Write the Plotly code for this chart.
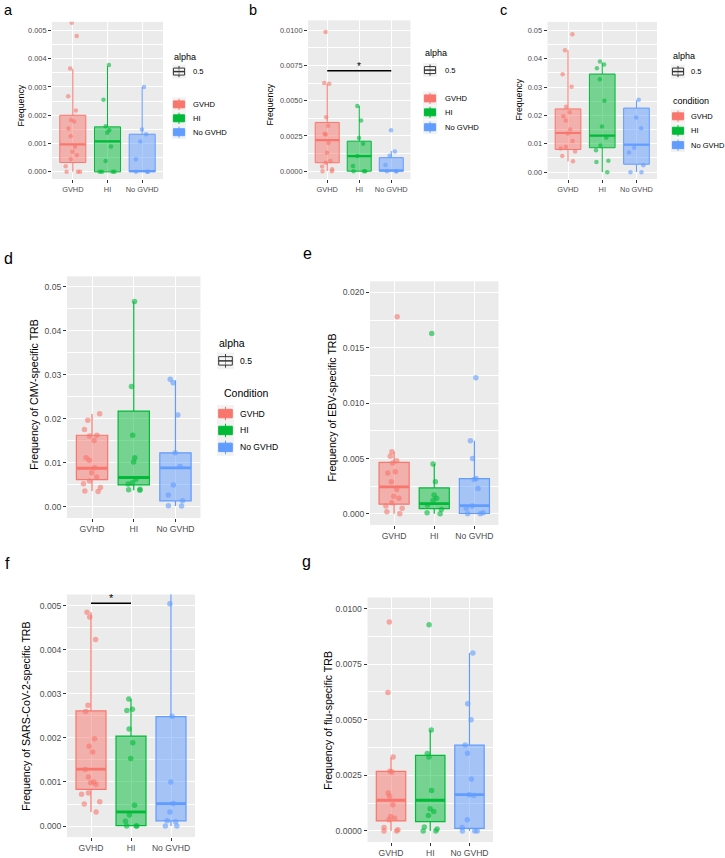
import plotly.graph_objects as go

W, H = 725, 858
GROUPS = ["GVHD", "HI", "No GVHD"]
COLORS = ["#F8766D", "#00BA38", "#619CFF"]
FILLS = ["rgba(248,118,109,0.5)", "rgba(0,186,56,0.5)", "rgba(97,156,255,0.5)"]
DOTS = ["rgba(248,118,109,0.6)", "rgba(0,186,56,0.6)", "rgba(97,156,255,0.6)"]

# ---------------- panel a ----------------
A_GVHD = [0.00527, 0.0048, 0.00365, 0.00267, 0.00217, 0.00183, 0.00178, 0.00153, 0.00126,
          0.00089, 0.00071, 0.00059, 0.00045, 0.0002, 0.0, 0.0, 0.0]
A_HI = [0.00378, 0.00255, 0.00161, 0.00147, 0.00138, 0.0009, 0.00038, 0.0, 0.0, 0.0, 0.0]
A_NO = [0.003, 0.0015, 0.00133, 0.00107, 0.00045, 0.0, 0.0, 0.0]
A_Q1 = [0.00033, 0.0, 0.0]
A_MED = [0.00097, 0.00108, 0.00003]
A_Q3 = [0.002, 0.00159, 0.00133]
A_LO = [0.0, 0.0, 0.0]
A_UP = [0.00363, 0.00374, 0.003]

# ---------------- panel b ----------------
B_GVHD = [0.00988, 0.00626, 0.00621, 0.00383, 0.00322, 0.00266, 0.0026, 0.002, 0.0013,
          0.00072, 0.0006, 0.00033, 0.00014, 0.0, 0.0]
B_HI = [0.00463, 0.0036, 0.00236, 0.00194, 0.00107, 0.00037, 0.0, 0.0, 0.0]
B_NO = [0.0029, 0.0014, 0.0011, 0.00044, 0.0, 0.0, 0.0]
B_Q1 = [0.0006, 0.0, 0.0]
B_MED = [0.0022, 0.00107, 0.00005]
B_Q3 = [0.00346, 0.00213, 0.00096]
B_LO = [0.0, 0.0, 0.0]
B_UP = [0.0062, 0.00463, 0.00143]
B_SIG = [1, 3, 0.00713]

# ---------------- panel c ----------------
C_GVHD = [0.0486, 0.043, 0.0345, 0.0301, 0.0231, 0.0211, 0.0197, 0.0182, 0.015, 0.0136,
          0.011, 0.0089, 0.0083, 0.0073, 0.0057, 0.0038]
C_HI = [0.039, 0.038, 0.0366, 0.0328, 0.0252, 0.0161, 0.0121, 0.0094, 0.0077, 0.004, 0.0036, 0.0]
C_NO = [0.0255, 0.0193, 0.0155, 0.0086, 0.0069, 0.0024, 0.0, 0.0]
C_Q1 = [0.008, 0.0086, 0.0028]
C_MED = [0.0138, 0.0129, 0.0097]
C_Q3 = [0.0223, 0.0346, 0.0226]
C_LO = [0.0038, 0.0, 0.0]
C_UP = [0.043, 0.0386, 0.0253]

# ---------------- panel d ----------------
D_GVHD = [0.0211, 0.0196, 0.0175, 0.0162, 0.016, 0.015, 0.0111, 0.0105, 0.0088, 0.0077,
          0.0067, 0.0058, 0.0052, 0.0043, 0.0035, 0.0034]
D_HI = [0.0466, 0.0273, 0.0162, 0.0111, 0.0101, 0.0062, 0.0054, 0.0051, 0.0039, 0.0038, 0.0037]
D_NO = [0.0289, 0.0281, 0.0208, 0.0122, 0.0091, 0.0049, 0.0026, 0.0013, 0.0002, 0.0001]
D_Q1 = [0.0061, 0.0049, 0.0013]
D_MED = [0.0087, 0.0066, 0.0088]
D_Q3 = [0.0162, 0.0217, 0.0122]
D_LO = [0.0035, 0.0037, 0.0001]
D_UP = [0.021, 0.0466, 0.0287]

# ---------------- panel e ----------------
E_GVHD = [0.0178, 0.0056, 0.0052, 0.0048, 0.0046, 0.0038, 0.0037, 0.0029, 0.0022, 0.0016,
          0.0014, 0.001, 0.0007, 0.0005, 0.0002, 0.0]
E_HI = [0.0163, 0.0045, 0.0029, 0.0017, 0.0014, 0.0012, 0.0008, 0.0004, 0.0001, 0.0]
E_NO = [0.0123, 0.0066, 0.005, 0.0032, 0.0031, 0.0023, 0.0007, 0.0005, 0.0001, 0.0, 0.0]
E_Q1 = [0.00087, 0.00048, 0.00003]
E_MED = [0.00243, 0.00093, 0.00075]
E_Q3 = [0.00465, 0.00234, 0.00318]
E_LO = [0.0, 0.0, 0.0]
E_UP = [0.0056, 0.0045, 0.0066]

# ---------------- panel f ----------------
F_GVHD = [0.00485, 0.00474, 0.00423, 0.00274, 0.0026, 0.00198, 0.00181, 0.00168, 0.00128,
          0.00111, 0.001, 0.00098, 0.00095, 0.00075, 0.00072, 0.00055, 0.0005, 0.00032]
F_HI = [0.00288, 0.00265, 0.00262, 0.0022, 0.00189, 0.00153, 0.00047, 0.00025, 0.00011,
        0.0, 0.0, 0.0]
F_NO = [0.0065, 0.00504, 0.00249, 0.001, 0.00051, 0.00032, 0.00012, 0.0001, 0.0, 0.0]
F_Q1 = [0.00083, 0.00001, 0.00012]
F_MED = [0.00129, 0.00032, 0.00051]
F_Q3 = [0.00261, 0.00204, 0.00248]
F_LO = [0.00032, 0.0, 0.0]
F_UP = [0.00485, 0.00288, 0.0065]
F_SIG = [1, 2, 0.00505]

# ---------------- panel g ----------------
G_GVHD = [0.0094, 0.00623, 0.00333, 0.00269, 0.00265, 0.00171, 0.00156, 0.00118, 0.00065,
          0.00057, 0.0005, 0.00015, 0.00005, 0.0, 0.0]
G_HI = [0.00927, 0.00454, 0.00348, 0.00333, 0.00182, 0.001, 0.00088, 0.0007, 0.00018,
        0.00009, 0.0, 0.0]
G_NO = [0.008, 0.00572, 0.005, 0.00387, 0.0035, 0.00234, 0.00163, 0.0016, 0.0005, 0.00015,
        0.0, 0.0, 0.0]
G_Q1 = [0.00045, 0.00042, 0.00012]
G_MED = [0.00138, 0.00138, 0.00163]
G_Q3 = [0.00268, 0.0034, 0.00386]
G_LO = [0.0, 0.0, 0.0]
G_UP = [0.0033, 0.00454, 0.008]

Y_TITLES = ["Frequency", "Frequency", "Frequency",
            "Frequency of CMV-specific TRB", "Frequency of EBV-specific TRB",
            "Frequency of SARS-CoV-2-specific TRB", "Frequency of flu-specific TRB"]
LETTERS = ["a", "b", "c", "d", "e", "f", "g"]

DATA = [
    ([A_GVHD, A_HI, A_NO], A_Q1, A_MED, A_Q3, A_LO, A_UP, None),
    ([B_GVHD, B_HI, B_NO], B_Q1, B_MED, B_Q3, B_LO, B_UP, B_SIG),
    ([C_GVHD, C_HI, C_NO], C_Q1, C_MED, C_Q3, C_LO, C_UP, None),
    ([D_GVHD, D_HI, D_NO], D_Q1, D_MED, D_Q3, D_LO, D_UP, None),
    ([E_GVHD, E_HI, E_NO], E_Q1, E_MED, E_Q3, E_LO, E_UP, None),
    ([F_GVHD, F_HI, F_NO], F_Q1, F_MED, F_Q3, F_LO, F_UP, F_SIG),
    ([G_GVHD, G_HI, G_NO], G_Q1, G_MED, G_Q3, G_LO, G_UP, None),
]

# layout (pixels): plot box, y range, dtick, tickformat, top row?
LAYOUT = [
    dict(box=(52, 163, 22, 180), yr=(-0.00025, 0.0053), dt=0.001, fmt=".3f", top=True,
         ttl=(21, 106), let=(2, None)),
    dict(box=(308, 410.5, 20.5, 180), yr=(-0.00055, 0.0107), dt=0.0025, fmt=".4f", top=True,
         ttl=(270, 105), let=(247, None)),
    dict(box=(547.5, 657, 22, 180), yr=(-0.0024, 0.053), dt=0.01, fmt=".2f", top=True,
         ttl=(519, 100), let=(498, None)),
    dict(box=(67, 200.5, 278, 521), yr=(-0.0026, 0.0523), dt=0.01, fmt=".2f", top=False,
         ttl=(34, 397), let=(2, 267)),
    dict(box=(370, 498.5, 283, 528), yr=(-0.001, 0.021), dt=0.005, fmt=".3f", top=False,
         ttl=(332, 410), let=(301, 262)),
    dict(box=(67, 195, 598, 842), yr=(-0.00025, 0.00525), dt=0.001, fmt=".3f", top=False,
         ttl=(26, 721), let=(3, 574)),
    dict(box=(367.5, 493, 601, 847), yr=(-0.0005, 0.0105), dt=0.0025, fmt=".4f", top=False,
         ttl=(328, 725), let=(300, 572)),
]

FONT = "Liberation Sans, Arial, sans-serif"
BOXW = 0.75


def px(x):
    return x / W


def py(y):
    return 1 - y / H


fig = go.Figure()
annotations = []
shapes = []
lay = {}

for k, (pts, q1, med, q3, lo, up, sig) in enumerate(DATA):
    L = LAYOUT[k]
    s = "" if k == 0 else str(k + 1)
    xr, yr = "x" + s, "y" + s
    top = L["top"]
    lw = 1.0 if top else 1.2
    mw = 2.2 if top else 2.8
    ms = 4.5 if top else 5.5
    tfs = 7.4 if top else 8.6
    afs = 8.8 if top else 10.6

    for g in range(3):
        fig.add_trace(go.Box(
            x=[g + 1], q1=[q1[g]], median=[med[g]], q3=[q3[g]],
            lowerfence=[lo[g]], upperfence=[up[g]], width=BOXW,
            fillcolor=FILLS[g], line=dict(color=COLORS[g], width=lw),
            whiskerwidth=0, boxpoints=False, showlegend=False, hoverinfo="skip",
            xaxis=xr, yaxis=yr))
    for g in range(3):
        fig.add_trace(go.Scatter(
            x=[g + 1 - BOXW / 2, g + 1 + BOXW / 2], y=[med[g], med[g]], mode="lines",
            line=dict(color=COLORS[g], width=mw), showlegend=False, hoverinfo="skip",
            xaxis=xr, yaxis=yr))
    for g in range(3):
        fig.add_trace(go.Box(
            x0=g + 1, y=pts[g], boxpoints="all", jitter=0.75, pointpos=0, width=BOXW,
            fillcolor="rgba(0,0,0,0)", line=dict(color="rgba(0,0,0,0)", width=0),
            marker=dict(color=DOTS[g], size=ms, line=dict(width=0)),
            showlegend=False, hoverinfo="skip", xaxis=xr, yaxis=yr))
    if sig is not None:
        fig.add_trace(go.Scatter(
            x=[sig[0], sig[1]], y=[sig[2], sig[2]], mode="lines",
            line=dict(color="black", width=1.5), showlegend=False, hoverinfo="skip",
            xaxis=xr, yaxis=yr))
        annotations.append(dict(x=(sig[0] + sig[1]) / 2, y=sig[2], xref=xr, yref=yr,
                                text="*", showarrow=False, yanchor="bottom", yshift=-3,
                                font=dict(size=10 if top else 11, color="black")))

    x0, x1, y0, y1 = L["box"]
    lay["xaxis" + s] = dict(
        domain=[px(x0), px(x1)], anchor=yr, range=[0.4, 3.6],
        tickmode="array", tickvals=[1, 2, 3], ticktext=GROUPS,
        showgrid=True, gridcolor="white", gridwidth=1, zeroline=False, showline=False,
        ticks="outside", ticklen=3, tickwidth=1, tickcolor="#333333",
        tickfont=dict(size=tfs, color="#4D4D4D", family=FONT))
    lay["yaxis" + s] = dict(
        domain=[py(y1), py(y0)], anchor=xr, range=list(L["yr"]),
        tick0=0, dtick=L["dt"], tickformat=L["fmt"],
        showgrid=True, gridcolor="white", gridwidth=1, zeroline=False, showline=False,
        minor=dict(dtick=L["dt"] / 2, showgrid=True, gridcolor="white", gridwidth=0.5),
        ticks="outside", ticklen=3, tickwidth=1, tickcolor="#333333",
        tickfont=dict(size=tfs, color="#4D4D4D", family=FONT))
    tx, ty = L["ttl"]
    annotations.append(dict(x=px(tx), y=py(ty), xref="paper", yref="paper",
                            text=Y_TITLES[k], textangle=-90, showarrow=False,
                            xanchor="center", yanchor="middle",
                            font=dict(size=afs, color="black", family=FONT)))
    lx, ly = L["let"]
    if ly is None:
        annotations.append(dict(x=px(lx), y=1.0, xref="paper", yref="paper",
                                text=LETTERS[k], showarrow=False, xanchor="left",
                                yanchor="top", font=dict(size=14.5, color="black", family=FONT)))
    else:
        annotations.append(dict(x=px(lx), y=py(ly + 3.5), xref="paper", yref="paper",
                                text=LETTERS[k], showarrow=False, xanchor="left",
                                yanchor="bottom", font=dict(size=16, color="black", family=FONT)))


def add_key(x, yc, kk, fill, line):
    y0 = yc - kk / 2
    shapes.append(dict(type="rect", xref="paper", yref="paper", x0=px(x), x1=px(x + kk),
                       y0=py(y0 + kk), y1=py(y0), fillcolor="#F2F2F2", line=dict(width=0),
                       layer="above"))
    shapes.append(dict(type="line", xref="paper", yref="paper", x0=px(x + kk / 2),
                       x1=px(x + kk / 2), y0=py(y0 + 0.9 * kk), y1=py(y0 + 0.1 * kk),
                       line=dict(color=line, width=1), layer="above"))
    shapes.append(dict(type="rect", xref="paper", yref="paper", x0=px(x + 0.1 * kk),
                       x1=px(x + 0.9 * kk), y0=py(y0 + 0.75 * kk), y1=py(y0 + 0.25 * kk),
                       fillcolor=fill, line=dict(color=line, width=1), layer="above"))
    shapes.append(dict(type="line", xref="paper", yref="paper", x0=px(x + 0.1 * kk),
                       x1=px(x + 0.9 * kk), y0=py(yc), y1=py(yc),
                       line=dict(color=line, width=1.5), layer="above"))


def add_text(x, y, text, size):
    annotations.append(dict(x=px(x), y=py(y), xref="paper", yref="paper", text=text,
                            showarrow=False, xanchor="left", yanchor="middle",
                            font=dict(size=size, color="black", family=FONT)))


LEGENDS = [
    dict(x=172, kk=14, t_y=57, a_y=72, tx=191, ct=None, ct_y=0, items=[105, 119, 133],
         fst=9, fsx=7.6),
    dict(x=423, kk=14, t_y=53, a_y=70.5, tx=443, ct=None, ct_y=0, items=[99, 113, 128],
         fst=9, fsx=7.6),
    dict(x=671, kk=14, t_y=56, a_y=72, tx=689, ct="condition", ct_y=102,
         items=[117, 131.5, 146], fst=9, fsx=7.5),
    dict(x=217, kk=17, t_y=345, a_y=363, tx=238, ct="Condition", ct_y=395,
         items=[416, 433, 450], fst=10.5, fsx=8.6),
]

for Lg in LEGENDS:
    add_text(Lg["x"], Lg["t_y"], "alpha", Lg["fst"])
    add_key(Lg["x"], Lg["a_y"], Lg["kk"], "rgba(255,255,255,0.5)", "#333333")
    add_text(Lg["tx"], Lg["a_y"], "0.5", Lg["fsx"])
    if Lg["ct"]:
        cx = Lg["x"] + (5 if Lg["ct"] == "Condition" else 0)
        add_text(cx, Lg["ct_y"], Lg["ct"], Lg["fst"])
    for g in range(3):
        add_key(Lg["x"], Lg["items"][g], Lg["kk"], COLORS[g], COLORS[g])
        add_text(Lg["tx"], Lg["items"][g], GROUPS[g], Lg["fsx"])

fig.update_layout(
    width=W, height=H, autosize=False,
    margin=dict(l=0, r=0, t=0, b=0, pad=0),
    paper_bgcolor="white", plot_bgcolor="#EBEBEB",
    font=dict(family=FONT, color="black"),
    showlegend=False, boxmode="overlay",
    annotations=annotations, shapes=shapes,
    **lay)

fig.write_html("out.html")
